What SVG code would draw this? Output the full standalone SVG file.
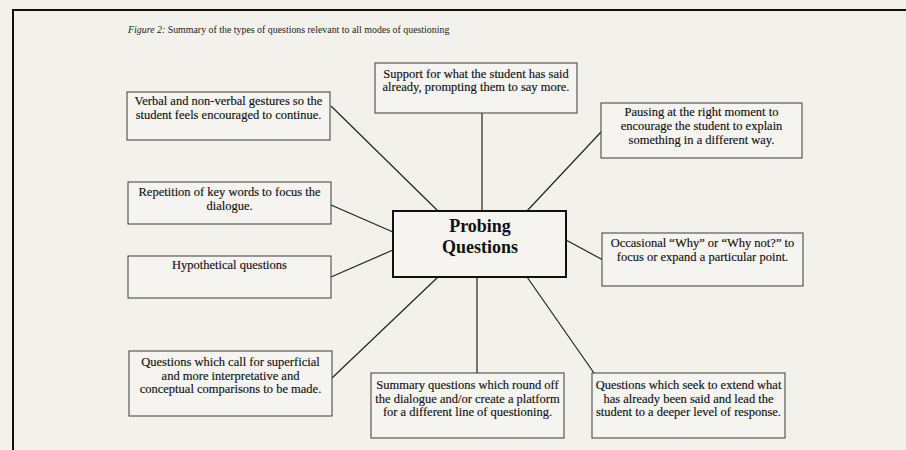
<svg xmlns="http://www.w3.org/2000/svg" width="906" height="450" viewBox="0 0 906 450">
  <style>
    .bg { fill: #f3f1ec; }
    .frame { fill: none; stroke: #111; stroke-width: 2; }
    .box { fill: #f5f4f0; stroke: #3a3a3a; stroke-width: 1; }
    .hub { fill: #f5f4f0; stroke: #111; stroke-width: 2; }
    .link { stroke: #222; stroke-width: 1.2; fill: none; }
    .t { font-family: "Liberation Serif", "Times New Roman", serif; font-size: 12.5px; fill: #111; stroke: #111; stroke-width: 0.15; text-anchor: middle; }
    .hubt { font-family: "Liberation Serif", "Times New Roman", serif; font-size: 18px; font-weight: bold; fill: #111; text-anchor: middle; }
    .cap { font-family: "Liberation Serif", "Times New Roman", serif; font-size: 9.9px; fill: #222; }
  </style>

  <rect class="bg" x="0" y="0" width="906" height="450"/>
  <!-- page frame, running off the right and bottom edges -->
  <path class="frame" d="M 13 460 L 13 10 L 916 10"/>

  <text class="cap" x="128" y="33"><tspan font-style="italic">Figure 2:</tspan> Summary of the types of questions relevant to all modes of questioning</text>

  <g id="connectors">
    <line class="link" x1="331" y1="106" x2="438" y2="211"/>
    <line class="link" x1="482" y1="113" x2="482" y2="211"/>
    <line class="link" x1="601" y1="132" x2="527" y2="211"/>
    <line class="link" x1="331" y1="205" x2="393" y2="232"/>
    <line class="link" x1="331" y1="277" x2="393" y2="250"/>
    <line class="link" x1="566" y1="240" x2="603" y2="260"/>
    <line class="link" x1="332" y1="378" x2="438" y2="277"/>
    <line class="link" x1="477" y1="277" x2="477" y2="373"/>
    <line class="link" x1="527" y1="277" x2="594" y2="373"/>
  </g>

  <g id="probing">
    <rect class="hub" x="393" y="211" width="173" height="66"/>
    <text class="hubt" x="480" y="232">Probing</text>
    <text class="hubt" x="480" y="253">Questions</text>
  </g>

  <g id="support">
    <rect class="box" x="375" y="63" width="202" height="50"/>
    <text class="t" x="476" y="78">Support for what the student has said</text>
    <text class="t" x="476" y="91">already, prompting them to say more.</text>
  </g>

  <g id="verbal">
    <rect class="box" x="127" y="92" width="203" height="48"/>
    <text class="t" x="228.5" y="105">Verbal and non-verbal gestures so the</text>
    <text class="t" x="228.5" y="118.5">student feels encouraged to continue.</text>
  </g>

  <g id="pausing">
    <rect class="box" x="601" y="103" width="201" height="55"/>
    <text class="t" x="701.5" y="116">Pausing at the right moment to</text>
    <text class="t" x="701.5" y="130">encourage the student to explain</text>
    <text class="t" x="701.5" y="144">something in a different way.</text>
  </g>

  <g id="repetition">
    <rect class="box" x="128" y="182" width="203" height="42"/>
    <text class="t" x="229.5" y="196">Repetition of key words to focus the</text>
    <text class="t" x="229.5" y="209.5">dialogue.</text>
  </g>

  <g id="hypothetical">
    <rect class="box" x="128" y="256" width="203" height="42"/>
    <text class="t" x="229.5" y="269">Hypothetical questions</text>
  </g>

  <g id="occasional">
    <rect class="box" x="602" y="233" width="201" height="53"/>
    <text class="t" x="702.5" y="247">Occasional “Why” or “Why not?” to</text>
    <text class="t" x="702.5" y="261">focus or expand a particular point.</text>
  </g>

  <g id="comparisons">
    <rect class="box" x="129" y="351" width="203" height="65"/>
    <text class="t" x="230.5" y="366">Questions which call for superficial</text>
    <text class="t" x="230.5" y="379.5">and more interpretative and</text>
    <text class="t" x="230.5" y="393">conceptual comparisons to be made.</text>
  </g>

  <g id="summary">
    <rect class="box" x="371" y="373" width="193" height="65"/>
    <text class="t" x="467.5" y="389">Summary questions which round off</text>
    <text class="t" x="467.5" y="402.5">the dialogue and/or create a platform</text>
    <text class="t" x="467.5" y="416">for a different line of questioning.</text>
  </g>

  <g id="extend">
    <rect class="box" x="592" y="373" width="193" height="65"/>
    <text class="t" x="688.5" y="389">Questions which seek to extend what</text>
    <text class="t" x="688.5" y="402.5">has already been said and lead the</text>
    <text class="t" x="688.5" y="416">student to a deeper level of response.</text>
  </g>
</svg>
